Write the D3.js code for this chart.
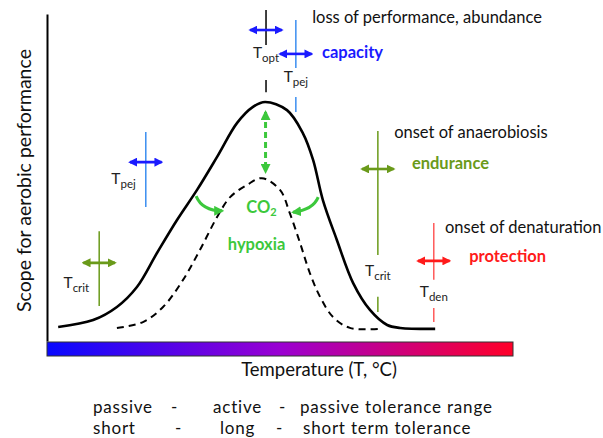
<!DOCTYPE html>
<html>
<head>
<meta charset="utf-8">
<script src="https://cdn.jsdelivr.net/npm/d3@7"></script>
<style>
  body { margin: 0; background: #fff; }
  svg text { font-family: Lato, "Open Sans", sans-serif; }
</style>
</head>
<body>
<svg id="chart" width="603" height="438"></svg>
<script>
// performance curves (temperature on 0-100 scale, scope on 0-100 scale)
var solidT = [2.4, 9.9, 15.0, 19.3, 23.6, 27.9, 32.2, 36.5, 40.8, 44.2, 46.8, 51.5, 54.9, 57.1, 59.2, 62.2, 65.7, 69.3, 73.0, 75.8, 83.3];
var solidP = [4.3, 6.4, 10.4, 16.5, 26.9, 37.0, 46.2, 56.3, 66.7, 71.6, 73.1, 70.6, 63.6, 55.4, 43.1, 30.9, 17.7, 9.5, 4.9, 4.0, 3.7];
var dashedT = [15.0, 20.6, 24.9, 29.2, 32.8, 36.5, 39.3, 42.9, 46.1, 50.0, 52.1, 54.3, 56.4, 58.6, 61.4, 65.0, 71.0];
var dashedP = [4.0, 5.8, 10.4, 18.7, 27.8, 37.9, 44.0, 47.7, 49.8, 46.2, 39.1, 30.0, 20.8, 13.5, 7.3, 4.0, 3.7];

// threshold markers: line extent, gap for the label, arrow level, label level
var thresholds = [
  {kind: "opt",  t: 47.0, p: [101.2, 76.1], gap: [90.5, 79.8], arrowP: 95.1, labelP: 86.5},
  {kind: "pej",  t: 53.4, p: [98.2, 70.0],  gap: [83.5, 74.6], arrowP: 87.8, labelP: 79.2},
  {kind: "pej",  t: 21.2, p: [63.9, 41.0],  gap: null,         arrowP: 54.7, labelP: 48.0},
  {kind: "crit", t: 11.2, p: [33.6, 10.7],  gap: null,         arrowP: 23.9, labelP: 16.2},
  {kind: "crit", t: 71.0, p: [64.2, 8.9],   gap: [26.3, 13.5], arrowP: 52.6, labelP: 19.9},
  {kind: "den",  t: 83.0, p: [36.1, 5.8],   gap: [18.7, 10.1], arrowP: 24.5, labelP: 13.5}
];
var arrowHalf = 3.4;

// annotations
var notes = [
  {text: "loss of performance, abundance", t: 56.9, p: 97.2, kind: "plain"},
  {text: "capacity",                       t: 59.0, p: 86.5, kind: "pej"},
  {text: "onset of anaerobiosis",          t: 74.5, p: 62.1, kind: "plain"},
  {text: "endurance",                      t: 78.3, p: 52.6, kind: "crit"},
  {text: "onset of denaturation",          t: 85.4, p: 33.0, kind: "plain"},
  {text: "protection",                     t: 90.6, p: 24.2, kind: "den"}
];

// CO2 / hypoxia arrows: start, control, end
var bentArrows = [
  [[32.0, 44.3], [33.3, 39.8], [37.6, 39.8]],
  [[58.2, 44.0], [57.1, 40.1], [52.8, 39.4]]
];
var gapArrow = {t: 46.9, p: [70.0, 51.7]};

var row1 = ["passive", "-", "active", "-", "passive tolerance range"];
var row2 = ["short", "-", "long", "-", "short term tolerance"];

var lineColor = {opt: "#000", pej: "#3b8ef0", crit: "#6a9a1a", den: "#ff5a5a"};
var arrowColor = {opt: "#1a1aff", pej: "#1a1aff", crit: "#6a9a1a", den: "#ff1a1a"};
var textColor = {plain: "#111", pej: "#1a1aff", crit: "#6a9a1a", den: "#ff1a1a"};
var green = "#3cc83c";

var svg = d3.select("#chart");
var x = d3.scaleLinear().domain([0, 100]).range([47, 513]);
var y = d3.scaleLinear().domain([0, 100]).range([341, 14]);

var defs = svg.append("defs");
function head(id, color, size) {
  defs.append("marker")
    .attr("id", id)
    .attr("viewBox", "0 -5 10 10")
    .attr("refX", 8)
    .attr("refY", 0)
    .attr("markerWidth", size)
    .attr("markerHeight", size)
    .attr("markerUnits", "userSpaceOnUse")
    .attr("orient", "auto-start-reverse")
    .append("path")
    .attr("d", "M0,-5L10,0L0,5Z")
    .attr("fill", color);
}
head("h-opt", arrowColor.opt, 9);
head("h-pej", arrowColor.pej, 9);
head("h-crit", arrowColor.crit, 9);
head("h-den", arrowColor.den, 9);
head("h-green", green, 10);

var grad = defs.append("linearGradient").attr("id", "temp");
grad.append("stop").attr("offset", "0%").attr("stop-color", "#0808ff");
grad.append("stop").attr("offset", "50%").attr("stop-color", "#9a00d2");
grad.append("stop").attr("offset", "100%").attr("stop-color", "#ff0028");

// temperature bar
svg.append("rect")
  .attr("x", x(0))
  .attr("y", y(0) + 1)
  .attr("width", x(100) - x(0))
  .attr("height", 14)
  .attr("fill", "url(#temp)")
  .attr("stroke", "#333")
  .attr("stroke-width", 1);

// y axis
var yAxis = svg.append("g")
  .attr("transform", "translate(" + x(0) + ",0)")
  .call(d3.axisLeft(y).tickValues([]).tickSizeOuter(0));
yAxis.select(".domain").attr("stroke", "#000").attr("stroke-width", 2);

svg.append("text")
  .attr("transform", "translate(31," + ((y(0) + y(100)) / 2 + 3) + ") rotate(-90)")
  .attr("text-anchor", "middle")
  .style("font-size", "19.5px")
  .attr("fill", "#111")
  .text("Scope for aerobic performance");

svg.append("text")
  .attr("x", (x(0) + x(100)) / 2 + 39)
  .attr("y", 376)
  .attr("text-anchor", "middle")
  .style("font-size", "18.5px")
  .attr("fill", "#111")
  .text("Temperature (T, °C)");

// curves
var valueline = d3.line()
  .x(function(d) { return x(d[0]); })
  .y(function(d) { return y(d[1]); })
  .curve(d3.curveCatmullRom.alpha(0.5));

svg.append("path")
  .datum(d3.zip(solidT, solidP))
  .attr("d", valueline)
  .attr("fill", "none")
  .attr("stroke", "#000")
  .attr("stroke-width", 2.6);

svg.append("path")
  .datum(d3.zip(dashedT, dashedP))
  .attr("d", valueline)
  .attr("fill", "none")
  .attr("stroke", "#000")
  .attr("stroke-width", 2)
  .attr("stroke-dasharray", "7,5");

// threshold markers
thresholds.forEach(function(d) {
  var segs = d.gap ? [[d.p[0], d.gap[0]], [d.gap[1], d.p[1]]] : [d.p];
  segs.forEach(function(s) {
    svg.append("line")
      .attr("x1", x(d.t)).attr("x2", x(d.t))
      .attr("y1", y(s[0])).attr("y2", y(s[1]))
      .attr("stroke", lineColor[d.kind])
      .attr("stroke-width", 1.5);
  });
  svg.append("line")
    .attr("x1", x(d.t - arrowHalf)).attr("x2", x(d.t + arrowHalf))
    .attr("y1", y(d.arrowP)).attr("y2", y(d.arrowP))
    .attr("stroke", arrowColor[d.kind])
    .attr("stroke-width", 2.6)
    .attr("marker-start", "url(#h-" + d.kind + ")")
    .attr("marker-end", "url(#h-" + d.kind + ")");

  var lbl = svg.append("text")
    .attr("y", y(d.labelP))
    .attr("fill", "#222")
    .style("font-size", "15.5px");
  if (d.gap) {
    lbl.attr("x", x(d.t)).attr("text-anchor", "middle");
  } else {
    lbl.attr("x", x(d.t) - 10).attr("text-anchor", "end");
  }
  lbl.append("tspan").text("T");
  lbl.append("tspan").attr("dy", 4).style("font-size", "11.5px").text(d.kind);
});

// notes
notes.forEach(function(d) {
  svg.append("text")
    .attr("x", x(d.t))
    .attr("y", y(d.p))
    .attr("fill", textColor[d.kind])
    .style("font-size", "16.5px")
    .style("font-weight", d.kind === "plain" ? "normal" : "bold")
    .text(d.text);
});

// CO2 / hypoxia
svg.append("line")
  .attr("x1", x(gapArrow.t)).attr("x2", x(gapArrow.t))
  .attr("y1", y(gapArrow.p[0])).attr("y2", y(gapArrow.p[1]))
  .attr("stroke", green)
  .attr("stroke-width", 3)
  .attr("stroke-dasharray", "6,4")
  .attr("marker-start", "url(#h-green)")
  .attr("marker-end", "url(#h-green)");

bentArrows.forEach(function(a) {
  svg.append("path")
    .attr("d", "M" + x(a[0][0]) + "," + y(a[0][1]) +
               "Q" + x(a[1][0]) + "," + y(a[1][1]) + " " + x(a[2][0]) + "," + y(a[2][1]))
    .attr("fill", "none")
    .attr("stroke", green)
    .attr("stroke-width", 3)
    .attr("marker-end", "url(#h-green)");
});

var co2 = svg.append("text")
  .attr("x", x(gapArrow.t) - 4)
  .attr("y", 213)
  .attr("text-anchor", "middle")
  .attr("fill", green)
  .style("font-size", "16.5px")
  .style("font-weight", "bold");
co2.append("tspan").text("CO");
co2.append("tspan").attr("dy", 3).style("font-size", "11px").text("2");

svg.append("text")
  .attr("x", x(gapArrow.t) - 9)
  .attr("y", 250)
  .attr("text-anchor", "middle")
  .attr("fill", green)
  .style("font-size", "16.5px")
  .style("font-weight", "bold")
  .text("hypoxia");

// tolerance rows
var colX = [[93, 171, 213, 279, 300], [93, 175, 220, 276, 303]];
[row1, row2].forEach(function(row, i) {
  row.forEach(function(w, j) {
    svg.append("text")
      .attr("x", colX[i][j])
      .attr("y", 412.5 + i * 21)
      .attr("fill", "#111")
      .style("font-size", "17px")
      .style("letter-spacing", "0.8px")
      .text(w);
  });
});
</script>
</body>
</html>
